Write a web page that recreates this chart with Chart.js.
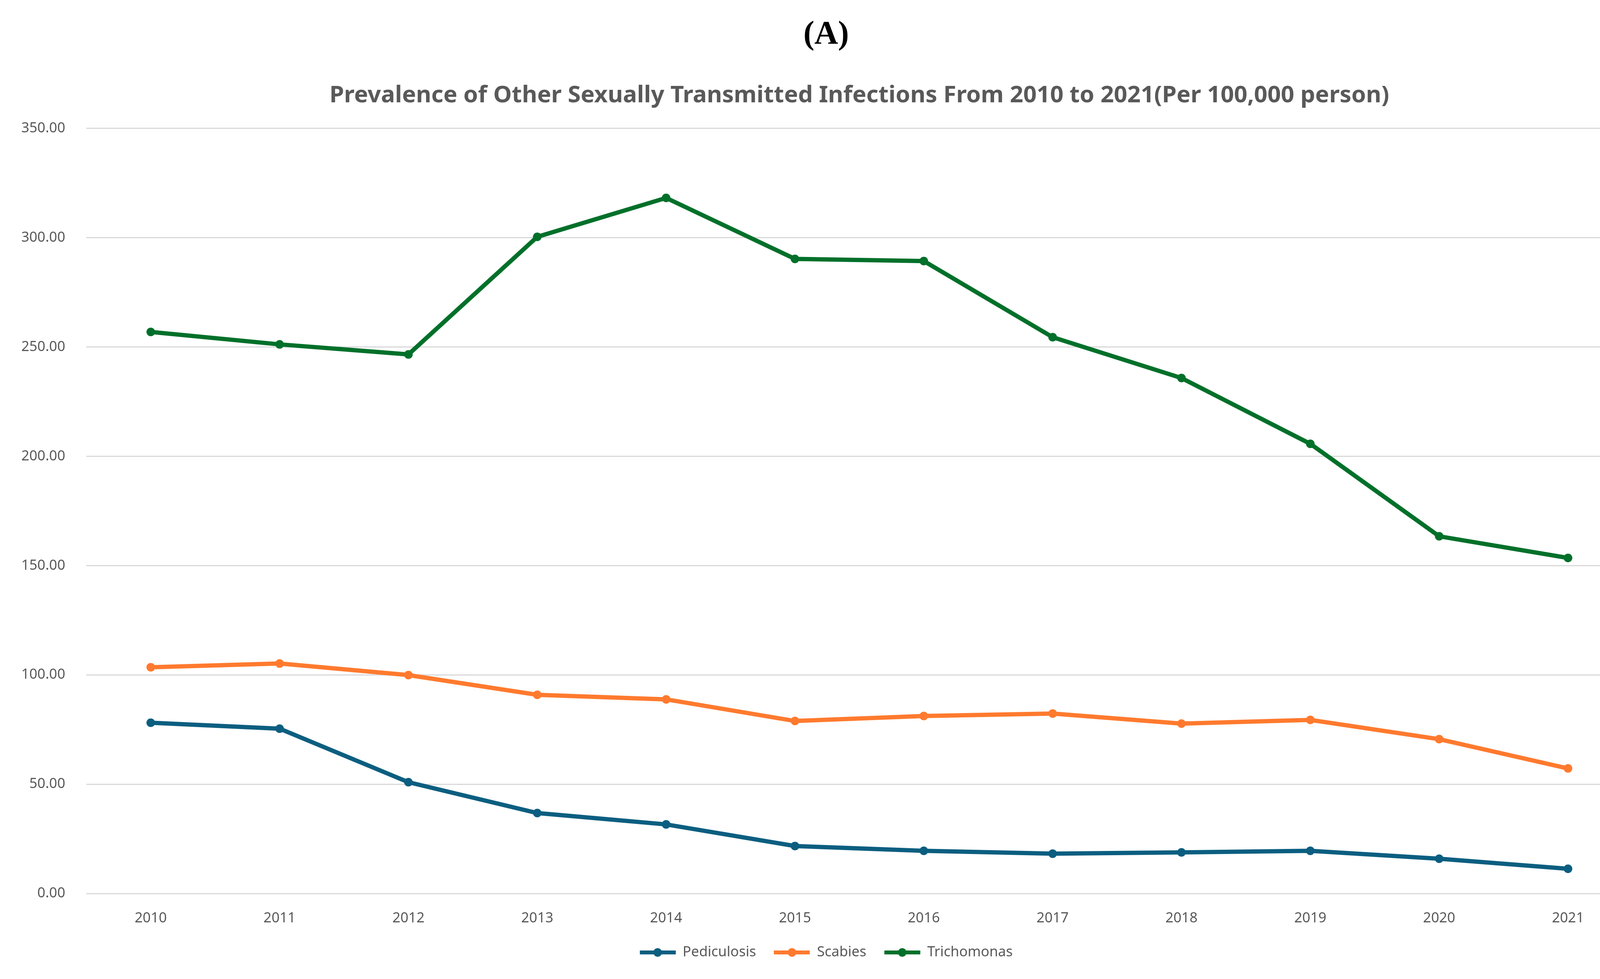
<!DOCTYPE html>
<html>
<head>
<meta charset="utf-8">
<script src="https://cdn.jsdelivr.net/npm/chart.js@4"></script>
<style>
  html, body { margin: 0; padding: 0; background: #fff; }
  #wrap { width: 4230px; height: 2507px; }
</style>
</head>
<body>
<div id="wrap"><canvas id="stiChart"></canvas></div>
<script>
// data
const years = ["2010", "2011", "2012", "2013", "2014", "2015", "2016", "2017", "2018", "2019", "2020", "2021"];
const pediculosis = [78.1, 75.4, 50.9, 36.8, 31.6, 21.7, 19.5, 18.2, 18.8, 19.5, 15.9, 11.3];
const scabies = [103.5, 105.2, 99.9, 90.9, 88.8, 78.9, 81.2, 82.3, 77.7, 79.4, 70.6, 57.2];
const trichomonas = [256.9, 251.2, 246.6, 300.4, 318.2, 290.3, 289.3, 254.5, 235.8, 205.7, 163.4, 153.5];
const yTicks = [0, 50, 100, 150, 200, 250, 300, 350];

const seriesNames = ["Pediculosis", "Scabies", "Trichomonas"];
const seriesColors = ["#0B5E80", "#FF7A2E", "#00702A"];

const axisGray = "#595959";
const tickFont = { family: "'Noto Sans', sans-serif", size: 36 };

// small "line with a dot" swatch for the legend
function legendSwatch(color) {
  const c = document.createElement("canvas");
  c.width = 92;
  c.height = 26;
  const g = c.getContext("2d");
  g.strokeStyle = color;
  g.lineWidth = 10;
  g.beginPath();
  g.moveTo(0, 13);
  g.lineTo(92, 13);
  g.stroke();
  g.fillStyle = color;
  g.beginPath();
  g.arc(46, 13, 11, 0, Math.PI * 2);
  g.fill();
  return c;
}

const datasets = [pediculosis, scabies, trichomonas].map((values, i) => ({
  label: seriesNames[i],
  data: values,
  borderColor: seriesColors[i],
  backgroundColor: seriesColors[i],
  borderWidth: 11,
  pointRadius: 11,
  pointHoverRadius: 11,
  pointBorderWidth: 0,
  tension: 0,
  fill: false,
}));

const ctx = document.getElementById("stiChart").getContext("2d");
new Chart(ctx, {
  type: "line",
  data: { labels: years, datasets: datasets },
  options: {
    responsive: true,
    maintainAspectRatio: false,
    animation: false,
    devicePixelRatio: 1,
    layout: { padding: { left: 0, right: 0, top: 0, bottom: 40 } },
    scales: {
      x: {
        offset: true,
        grid: { display: false, drawTicks: false },
        border: { display: false },
        ticks: { color: axisGray, font: tickFont, padding: 42, maxRotation: 0 },
        afterFit: (scale) => {
          scale.height = 87;
        },
      },
      y: {
        min: 0,
        max: 350,
        afterBuildTicks: (axis) => {
          axis.ticks = yTicks.map((v) => ({ value: v }));
        },
        grid: { color: "#D9D9D9", lineWidth: 3, drawTicks: false },
        border: { display: false },
        ticks: {
          color: axisGray,
          font: tickFont,
          padding: 54,
          callback: (v) => Number(v).toFixed(2),
        },
        afterFit: (scale) => {
          scale.width = 221;
        },
      },
      // empty right-hand spacer so the plot ends where the reference does
      yRight: {
        display: true,
        position: "right",
        grid: { display: false, drawTicks: false },
        border: { display: false },
        ticks: { display: false },
        afterFit: (scale) => {
          scale.width = 51;
        },
      },
    },
    plugins: {
      title: {
        display: true,
        text: "(A)",
        color: "#000000",
        font: { family: "'Liberation Serif', serif", size: 84, weight: "bold" },
        padding: { top: 40, bottom: 60 },
      },
      subtitle: {
        display: true,
        fullSize: false,
        text: "Prevalence of Other Sexually Transmitted Infections From 2010 to 2021(Per 100,000 person)",
        color: axisGray,
        font: { family: "'Noto Sans', sans-serif", size: 60, weight: "bold" },
        padding: { top: 8, bottom: 48 },
      },
      legend: {
        position: "bottom",
        labels: {
          color: axisGray,
          font: tickFont,
          usePointStyle: true,
          pointStyleWidth: 92,
          padding: 46,
          generateLabels: (chart) =>
            chart.data.datasets.map((ds, i) => ({
              text: ds.label,
              fillStyle: ds.borderColor,
              strokeStyle: ds.borderColor,
              fontColor: axisGray,
              lineWidth: 0,
              pointStyle: legendSwatch(ds.borderColor),
              hidden: !chart.isDatasetVisible(i),
              datasetIndex: i,
            })),
        },
      },
      tooltip: { enabled: false },
    },
  },
});
</script>
</body>
</html>
